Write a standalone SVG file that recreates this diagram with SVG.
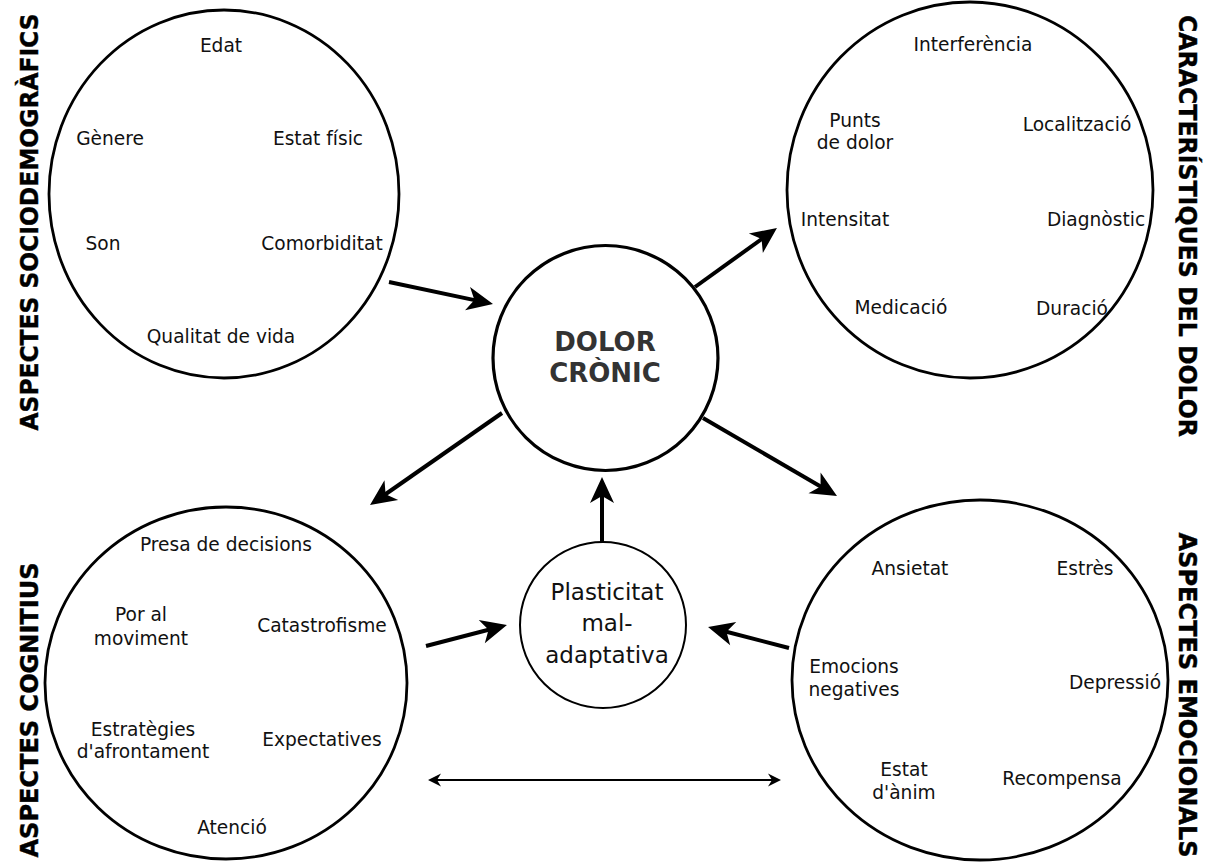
<svg xmlns="http://www.w3.org/2000/svg" width="1208" height="864" viewBox="0 0 1208 864">
  <style>
    .bg { fill: #ffffff; }
    .ring { fill: #ffffff; stroke: #000000; stroke-width: 2.8; }
    .core { fill: #ffffff; stroke: #000000; stroke-width: 3.2; }
    .small { fill: #ffffff; stroke: #000000; stroke-width: 2; }
    .item { font-family: "DejaVu Sans", Verdana, sans-serif; font-size: 18.6px; fill: #111111; text-anchor: middle; }
    .plast { font-family: "DejaVu Sans", Verdana, sans-serif; font-size: 23px; fill: #111111; text-anchor: middle; }
    .title { font-family: "DejaVu Sans", Verdana, sans-serif; font-size: 26px; font-weight: bold; fill: #333333; text-anchor: middle; }
    .side { font-family: "DejaVu Sans", Verdana, sans-serif; font-size: 24px; font-weight: bold; fill: #000000; stroke: #000000; stroke-width: 0.4; text-anchor: middle; }
    .link { fill: none; stroke: #000000; stroke-width: 4; marker-end: url(#head); }
    .both { fill: none; stroke: #000000; stroke-width: 2; marker-start: url(#headSmallStart); marker-end: url(#headSmall); }
  </style>
  <defs>
    <marker id="head" markerUnits="userSpaceOnUse" viewBox="-28 -14 30 28" markerWidth="30" markerHeight="28" refX="-14" refY="0" orient="auto">
      <path d="M0,0 L-26,-12 L-19,0 L-26,12 Z" fill="#000000"/>
    </marker>
    <marker id="headSmall" markerUnits="userSpaceOnUse" viewBox="-15 -8 16 16" markerWidth="16" markerHeight="16" refX="-7" refY="0" orient="auto">
      <path d="M0,0 L-13,-6.5 L-9,0 L-13,6.5 Z" fill="#000000"/>
    </marker>
    <marker id="headSmallStart" markerUnits="userSpaceOnUse" viewBox="-15 -8 16 16" markerWidth="16" markerHeight="16" refX="-7" refY="0" orient="auto-start-reverse">
      <path d="M0,0 L-13,-6.5 L-9,0 L-13,6.5 Z" fill="#000000"/>
    </marker>
  </defs>

  <rect class="bg" x="0" y="0" width="1208" height="864"/>

  <!-- connectors -->
  <g id="connectors">
    <path class="link" d="M389,282 L479.3,301.1"/>
    <path class="link" d="M695,287 L765.6,236.2"/>
    <path class="link" d="M502,413 L381.5,497"/>
    <path class="link" d="M703,418 L824.9,489"/>
    <path class="link" d="M602,542 L602,491"/>
    <path class="link" d="M426,646 L493.4,628.5"/>
    <path class="link" d="M789,648 L721.6,630.5"/>
    <path class="both" d="M435,780 L774,780"/>
  </g>

  <!-- socio-demographic aspects -->
  <g id="sociodemografics">
    <ellipse class="ring" cx="224" cy="194" rx="175" ry="184"/>
    <text class="item" x="221" y="52">Edat</text>
    <text class="item" x="110" y="145">Gènere</text>
    <text class="item" x="318" y="145">Estat físic</text>
    <text class="item" x="103" y="250">Son</text>
    <text class="item" x="322" y="250">Comorbiditat</text>
    <text class="item" x="221" y="343">Qualitat de vida</text>
    <text class="side" transform="translate(38,222) rotate(-90)" textLength="417" lengthAdjust="spacingAndGlyphs">ASPECTES SOCIODEMOGRÀFICS</text>
  </g>

  <!-- pain characteristics -->
  <g id="caracteristiques">
    <ellipse class="ring" cx="970" cy="190" rx="183" ry="188"/>
    <text class="item" x="973" y="51">Interferència</text>
    <text class="item" x="855" y="127">Punts</text>
    <text class="item" x="855" y="149">de dolor</text>
    <text class="item" x="1077" y="131">Localització</text>
    <text class="item" x="845" y="226">Intensitat</text>
    <text class="item" x="1096" y="226">Diagnòstic</text>
    <text class="item" x="901" y="314">Medicació</text>
    <text class="item" x="1072" y="315">Duració</text>
    <text class="side" transform="translate(1179,226) rotate(90)" textLength="422" lengthAdjust="spacingAndGlyphs">CARACTERÍSTIQUES DEL DOLOR</text>
  </g>

  <!-- cognitive aspects -->
  <g id="cognitius">
    <ellipse class="ring" cx="226" cy="683" rx="181" ry="176"/>
    <text class="item" x="226" y="551">Presa de decisions</text>
    <text class="item" x="141" y="621">Por al</text>
    <text class="item" x="141" y="645">moviment</text>
    <text class="item" x="322" y="632">Catastrofisme</text>
    <text class="item" x="143" y="736">Estratègies</text>
    <text class="item" x="143" y="758">d'afrontament</text>
    <text class="item" x="322" y="746">Expectatives</text>
    <text class="item" x="232" y="834">Atenció</text>
    <text class="side" transform="translate(38,710) rotate(-90)" textLength="295" lengthAdjust="spacingAndGlyphs">ASPECTES COGNITIUS</text>
  </g>

  <!-- emotional aspects -->
  <g id="emocionals">
    <ellipse class="ring" cx="980" cy="680" rx="188" ry="180"/>
    <text class="item" x="910" y="575">Ansietat</text>
    <text class="item" x="1085" y="575">Estrès</text>
    <text class="item" x="854" y="673">Emocions</text>
    <text class="item" x="854" y="696">negatives</text>
    <text class="item" x="1115" y="689">Depressió</text>
    <text class="item" x="904" y="776">Estat</text>
    <text class="item" x="904" y="799">d'ànim</text>
    <text class="item" x="1062" y="785">Recompensa</text>
    <text class="side" transform="translate(1179,695) rotate(90)" textLength="325" lengthAdjust="spacingAndGlyphs">ASPECTES EMOCIONALS</text>
  </g>

  <!-- central node -->
  <g id="dolor-cronic">
    <circle class="core" cx="605.5" cy="358" r="112.5"/>
    <text class="title" x="605" y="351">DOLOR</text>
    <text class="title" x="605" y="382">CRÒNIC</text>
  </g>

  <!-- maladaptive plasticity -->
  <g id="plasticitat">
    <circle class="small" cx="603" cy="625" r="83"/>
    <text class="plast" x="607" y="600">Plasticitat</text>
    <text class="plast" x="607" y="631">mal-</text>
    <text class="plast" x="607" y="663">adaptativa</text>
  </g>
</svg>
